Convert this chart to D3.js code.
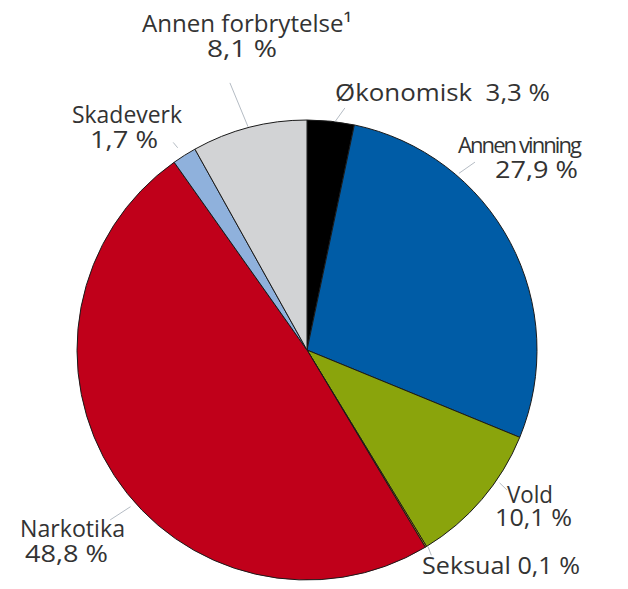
<!DOCTYPE html>
<html>
<head>
<meta charset="utf-8">
<script src="https://cdn.jsdelivr.net/npm/d3@7"></script>
<style>
  html, body { margin: 0; padding: 0; background: #fff; }
  text { font-family: "Open Sans", sans-serif; fill: #333; white-space: pre; }
</style>
</head>
<body>
<svg id="chart" width="628" height="589"></svg>
<script>
// Data (clockwise from 12 o'clock)
const categories = ["Økonomisk", "Annen vinning", "Vold", "Seksual", "Narkotika", "Skadeverk", "Annen forbrytelse¹"];
const values = [3.3, 27.9, 10.1, 0.1, 48.8, 1.7, 8.1];
const valueLabels = ["3,3 %", "27,9 %", "10,1 %", "0,1 %", "48,8 %", "1,7 %", "8,1 %"];
const colors = ["#000000", "#005ca6", "#8aa40c", "#d9a000", "#c0001a", "#8fb1dc", "#d2d3d5"];

// Label layout (positions/styles only): [text, x, baseline, width, fontSize, adjust]; text is centred
const labelLayout = [
  { lines: [[categories[0] + "  " + valueLabels[0], 442.5, 101, 215, 24, "spacingAndGlyphs"]], leader: [7.0, 230, 8.9, 245] },
  { lines: [[categories[1], 520, 153, 124, 22, "spacing"], [valueLabels[1], 536.5, 178, 83, 24, "spacingAndGlyphs"]], leader: [40.7, 233, 41.8, 252] },
  { lines: [[categories[2], 530, 503, 46, 24, "spacingAndGlyphs"], [valueLabels[2], 533.5, 526, 77, 24, "spacingAndGlyphs"]], leader: [124.6, 234, 125, 244] },
  { lines: [[categories[3] + " " + valueLabels[3], 501, 574, 158, 24, "spacingAndGlyphs"]], leader: [148.4, 231, 148.8, 240] },
  { lines: [[categories[4], 72.5, 537, 105, 24, "spacingAndGlyphs"], [valueLabels[4], 66.5, 562, 83, 24, "spacingAndGlyphs"]], leader: [228.4, 236, 229.2, 260] },
  { lines: [[categories[5], 127, 123, 110, 24, "spacingAndGlyphs"], [valueLabels[5], 124, 148, 68, 24, "spacingAndGlyphs"]], leader: [327.4, 240, 327.2, 247] },
  { lines: [[categories[6], 247, 32, 210, 24, "spacingAndGlyphs"], [valueLabels[6], 242, 57, 70, 24, "spacingAndGlyphs"]], leader: [345.2, 231, 343.9, 278] }
];

const svg = d3.select("#chart");
const cx = 307, cy = 350, R = 230;
const g = svg.append("g").attr("transform", `translate(${cx},${cy})`);

const pie = d3.pie().sort(null).value(d => d)(values);
const arc = d3.arc().innerRadius(0).outerRadius(R);

g.selectAll("path.slice")
  .data(pie)
  .join("path")
  .attr("class", "slice")
  .attr("d", arc)
  .attr("fill", (d, i) => colors[i])
  .attr("stroke", "#1a1a1a")
  .attr("stroke-width", 1)
  .attr("stroke-linejoin", "round");

// leader lines
const polar = (deg, r) => {
  const a = deg * Math.PI / 180;
  return [r * Math.sin(a), -r * Math.cos(a)];
};
g.selectAll("line.leader")
  .data(labelLayout)
  .join("line")
  .attr("class", "leader")
  .each(function(d) {
    const [a1, r1, a2, r2] = d.leader;
    const p1 = polar(a1, r1), p2 = polar(a2, r2);
    d3.select(this).attr("x1", p1[0]).attr("y1", p1[1]).attr("x2", p2[0]).attr("y2", p2[1]);
  })
  .attr("stroke", "#b5bcc4")
  .attr("stroke-width", 1);

// labels
labelLayout.forEach(L => {
  L.lines.forEach(([t, x, y, w, fs, adj]) => {
    svg.append("text")
      .attr("x", x).attr("y", y)
      .attr("text-anchor", "middle")
      .attr("font-size", fs)
      .attr("textLength", w)
      .attr("lengthAdjust", adj)
      .text(t);
  });
});
</script>
</body>
</html>
